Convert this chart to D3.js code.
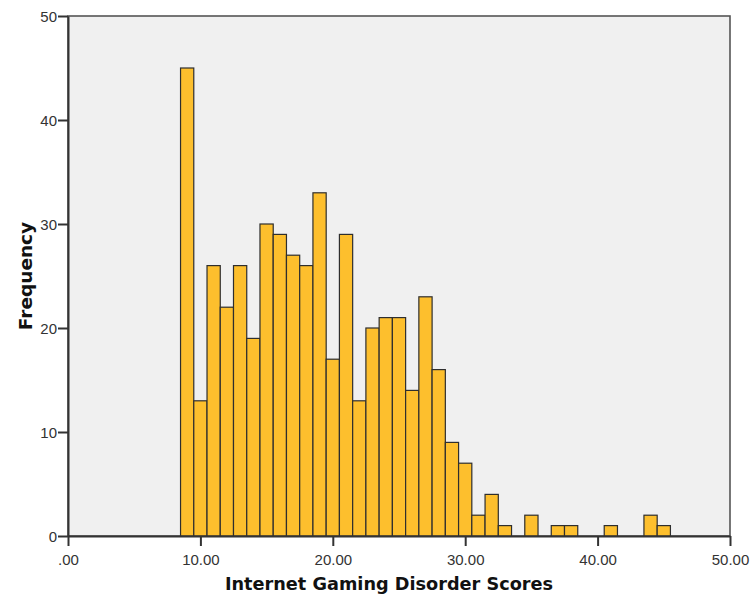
<!DOCTYPE html>
<html>
<head>
<meta charset="utf-8">
<script src="https://cdn.jsdelivr.net/npm/d3@7"></script>
<style>
  html, body { margin: 0; padding: 0; background: #ffffff; }
  svg { display: block; }
</style>
</head>
<body>
<svg id="chart" width="752" height="596"></svg>
<script>
// Data: bin centres (score) and frequencies
const scores = [9,10,11,12,13,14,15,16,17,18,19,20,21,22,23,24,25,26,27,28,29,30,31,32,33,34,35,36,37,38,39,40,41,42,43,44,45];
const frequencies = [45,13,26,22,26,19,30,29,27,26,33,17,29,13,20,21,21,14,23,16,9,7,2,4,1,0,2,0,1,1,0,0,1,0,0,2,1];
const xTicks = [0,10,20,30,40,50];
const xTickLabels = [".00","10.00","20.00","30.00","40.00","50.00"];
const yTicks = [0,10,20,30,40,50];
const xTitle = "Internet Gaming Disorder Scores";
const yTitle = "Frequency";

const svg = d3.select("#chart");
const mLeft = 68, mRight = 730, mTop = 16, mBottom = 536;

const x = d3.scaleLinear().domain([0, 50]).range([mLeft, mRight]);
const y = d3.scaleLinear().domain([0, 50]).range([mBottom, mTop]);

// plot background
svg.append("rect")
  .attr("x", mLeft).attr("y", mTop)
  .attr("width", mRight - mLeft).attr("height", mBottom - mTop)
  .attr("fill", "#f0f0f0")
  .attr("stroke", "#555").attr("stroke-width", 1.6);

const data = scores.map((s, i) => ({ s, f: frequencies[i] })).filter(d => d.f > 0);

svg.append("g").selectAll("rect")
  .data(data).join("rect")
  .attr("x", d => x(d.s - 0.5))
  .attr("y", d => y(d.f))
  .attr("width", d => x(d.s + 0.5) - x(d.s - 0.5))
  .attr("height", d => y(0) - y(d.f))
  .attr("fill", "#fdbf2d")
  .attr("stroke", "#2e2e2e")
  .attr("stroke-width", 1.2);

// x axis
const xAxis = d3.axisBottom(x)
  .tickValues(xTicks)
  .tickFormat((d, i) => xTickLabels[i])
  .tickSize(10).tickSizeOuter(0).tickPadding(4);
const gx = svg.append("g").attr("transform", `translate(0,${mBottom})`).call(xAxis);
gx.select(".domain").attr("stroke", "#333").attr("stroke-width", 2);
gx.selectAll(".tick line").attr("stroke", "#333").attr("stroke-width", 2);
gx.selectAll(".tick text")
  .attr("y", 29).attr("dy", null)
  .attr("fill", "#333")
  .style("font-family", "'Liberation Sans', Arial, sans-serif")
  .style("font-size", "15px");

// y axis
const yAxis = d3.axisLeft(y)
  .tickValues(yTicks)
  .tickFormat(d3.format("d"))
  .tickSize(10).tickSizeOuter(0).tickPadding(1);
const gy = svg.append("g").attr("transform", `translate(${mLeft},0)`).call(yAxis);
gy.select(".domain").attr("stroke", "#333").attr("stroke-width", 2);
gy.selectAll(".tick line").attr("stroke", "#333").attr("stroke-width", 2);
gy.selectAll(".tick text")
  .attr("fill", "#333")
  .attr("dy", "0.36em")
  .style("font-family", "'Liberation Sans', Arial, sans-serif")
  .style("font-size", "15px");

// titles
svg.append("text")
  .attr("x", 389).attr("y", 590)
  .attr("text-anchor", "middle")
  .attr("fill", "#111")
  .style("font-family", "'DejaVu Sans', Verdana, sans-serif")
  .style("font-weight", "bold")
  .style("font-size", "17.7px")
  .text(xTitle);

svg.append("text")
  .attr("transform", `translate(32,276) rotate(-90)`)
  .attr("text-anchor", "middle")
  .attr("fill", "#111")
  .style("font-family", "'DejaVu Sans', Verdana, sans-serif")
  .style("font-weight", "bold")
  .style("font-size", "18.5px")
  .text(yTitle);
</script>
</body>
</html>
